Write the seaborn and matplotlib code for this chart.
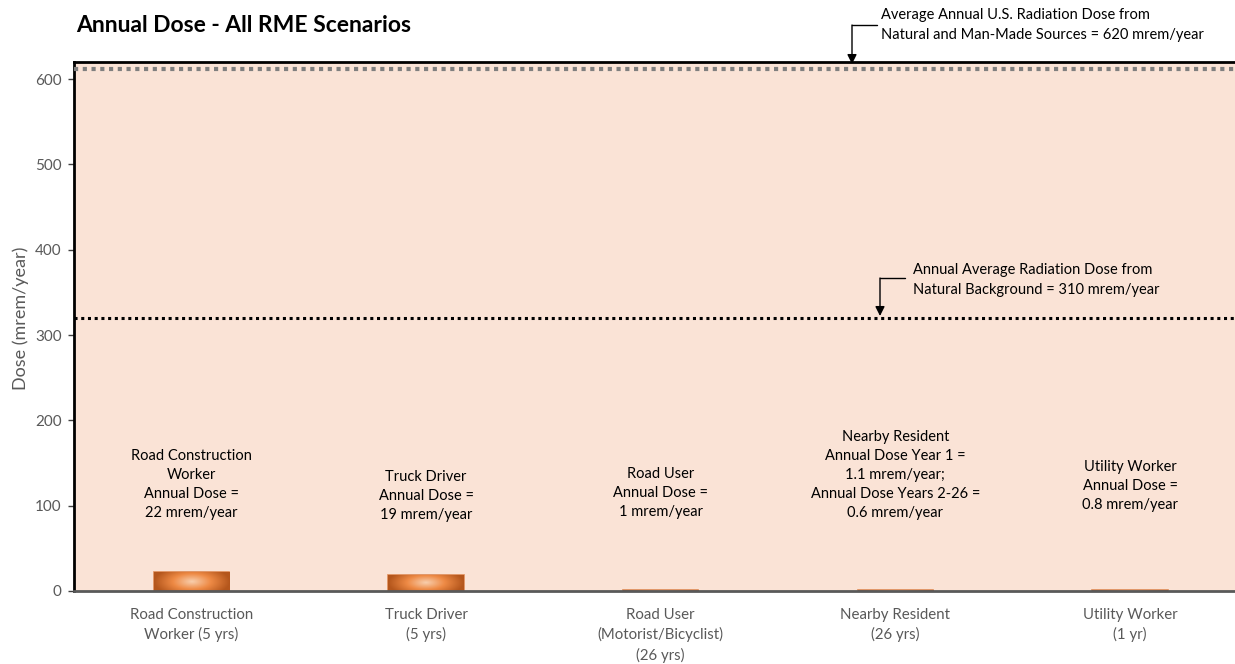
import numpy as np
import pandas as pd
import matplotlib
matplotlib.use("Agg")
import matplotlib.pyplot as plt
from matplotlib.colors import LinearSegmentedColormap
import seaborn as sns

# ---- data ----
categories = ["Road Construction\nWorker (5 yrs)", "Truck Driver\n(5 yrs)",
              "Road User\n(Motorist/Bicyclist)\n(26 yrs)", "Nearby Resident\n(26 yrs)",
              "Utility Worker\n(1 yr)"]
doses = [22, 19, 1, 0.85, 0.8]
bar_notes = ["Road Construction\nWorker\nAnnual Dose =\n22 mrem/year",
             "Truck Driver\nAnnual Dose =\n19 mrem/year",
             "Road User\nAnnual Dose =\n1 mrem/year",
             "Nearby Resident\nAnnual Dose Year 1 =\n1.1 mrem/year;\nAnnual Dose Years 2-26 =\n0.6 mrem/year",
             "Utility Worker\nAnnual Dose =\n0.8 mrem/year"]
note_y = [125, 111, 115, 136, 123]
ref_levels = [612, 320]
ref_notes = ["Average Annual U.S. Radiation Dose from\nNatural and Man-Made Sources = 620 mrem/year",
             "Annual Average Radiation Dose from\nNatural Background = 310 mrem/year"]
yticks = [0, 100, 200, 300, 400, 500, 600]

sns.set_theme(style="white")
plt.rcParams['font.family'] = ['Lato', 'DejaVu Sans']

fig = plt.figure(figsize=(12.35, 6.64), dpi=100)
ax = fig.add_axes([74 / 1235, 1 - 591 / 664, 1 - 74 / 1235 + 0.01, (591 - 62) / 664])
ax.set_facecolor('#FAE3D6')

df = pd.DataFrame({"cat": categories, "dose": doses})
sns.barplot(data=df, x="cat", y="dose", ax=ax, width=0.32, color="#E07B39",
            edgecolor="#DC8A55", linewidth=1.2, zorder=2)

# radial gradient fill for bars
cmap = LinearSegmentedColormap.from_list("bar", ["#F8CFAE", "#EE8A45", "#B4561C"])
gx = np.linspace(-1, 1, 200)
gy = np.linspace(-1, 1, 60)
GX, GY = np.meshgrid(gx, gy)
grad = np.clip(np.sqrt(GX ** 2 + 0.35 * GY ** 2), 0, 1)
for p in list(ax.patches):
    x0, w, h = p.get_x(), p.get_width(), p.get_height()
    im = ax.imshow(grad, extent=[x0, x0 + w, 0, h], aspect='auto', cmap=cmap,
                   vmin=0, vmax=1, zorder=2.5, interpolation='bilinear')
    im.set_clip_path(p)

ax.set_xlim(-0.5, len(categories) - 0.5)
ax.set_ylim(0, 620)
ax.set_aspect('auto')

# reference lines
ax.axhline(ref_levels[0], color='#7F7F7F', lw=3, linestyle=(0, (1, 1.1)), zorder=3)
ax.plot([-0.5, 4.45], [ref_levels[1], ref_levels[1]], color='black', lw=2.2,
        linestyle=(0, (1, 1.2)), zorder=3)

# bar annotations
for i, (txt, yy) in enumerate(zip(bar_notes, note_y)):
    ax.text(i, yy, txt, ha='center', va='center', fontsize=10.5, color='black',
            linespacing=1.45, zorder=4)

fig.canvas.draw()
for (tx, ty, ex, ey, ax_x, ay_bot), txt in zip(
        [(881, 25, 877, 25, 852, 64), (913, 280, 905, 278, 880, 316)], ref_notes):
    fig.text(tx / 1235, 1 - ty / 664, txt, ha='left', va='center', fontsize=10.5,
             linespacing=1.55, color='black')
    fig.add_artist(plt.Line2D([ex / 1235, ax_x / 1235], [1 - ey / 664, 1 - ey / 664],
                              color='black', lw=1, transform=fig.transFigure))
    fig.add_artist(matplotlib.patches.FancyArrowPatch(
        (ax_x / 1235, 1 - ey / 664), (ax_x / 1235, 1 - ay_bot / 664),
        transform=fig.transFigure, arrowstyle='-|>', mutation_scale=14,
        color='black', lw=1, shrinkA=0, shrinkB=0))

# axes styling
ax.set_yticks(yticks)
ax.tick_params(axis='y', left=True, length=4, width=1, color='#404040',
               labelsize=11, labelcolor='#595959', pad=5)
ax.tick_params(axis='x', bottom=False, labelsize=10.8, labelcolor='#595959', pad=6)
for lbl in ax.get_xticklabels():
    lbl.set_linespacing(1.45)
ax.set_xlabel("")
ax.set_ylabel("Dose (mrem/year)", fontsize=13, color='#595959', labelpad=5)
ax.yaxis.set_label_coords(-0.038, 0.515)
for s in ['left', 'top']:
    ax.spines[s].set_color('black')
    ax.spines[s].set_linewidth(2)
ax.spines['right'].set_visible(False)
ax.spines['bottom'].set_color('#595959')
ax.spines['bottom'].set_linewidth(2)
ax.spines['bottom'].set_zorder(5)

fig.text(76 / 1235, 1 - 26 / 664, "Annual Dose - All RME Scenarios", fontsize=16.5,
         fontweight='bold', ha='left', va='center', color='black')

fig.savefig("out.png", dpi=100)
